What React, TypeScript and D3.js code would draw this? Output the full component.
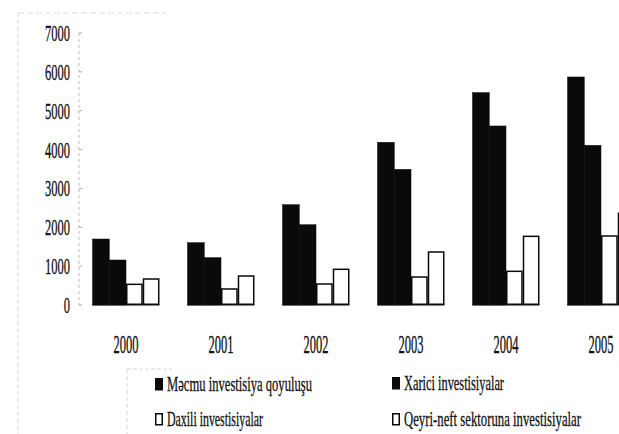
import React from "react";
import * as d3 from "d3";

const years = ["2000", "2001", "2002", "2003", "2004", "2005"];
const seriesNames = [
  "Məcmu investisiya qoyuluşu",
  "Xarici investisiyalar",
  "Daxili investisiyalar",
  "Qeyri-neft sektoruna investisiyalar",
];
const totalInv = [1698, 1604, 2581, 4187, 5465, 5868];
const foreignInv = [1158, 1218, 2066, 3491, 4607, 4109];
const domesticInv = [532, 412, 540, 720, 867, 1776];
const nonOilInv = [669, 746, 918, 1364, 1767, 2360];
const yTicks = [0, 1000, 2000, 3000, 4000, 5000, 6000, 7000];

const seriesValues = [totalInv, foreignInv, domesticInv, nonOilInv];
const seriesFill = ["#0a0a0a", "#0a0a0a", "#ffffff", "#ffffff"];

const W = 619;
const H = 434;
const FONT = "'Liberation Serif', 'Times New Roman', serif";

export default function App() {
  const x = d3
    .scaleBand<string>()
    .domain(years)
    .range([78.5, 78.5 + 570])
    .paddingInner(0.295)
    .paddingOuter(0.1475);
  const xs = d3
    .scaleBand<number>()
    .domain([0, 1, 2, 3])
    .range([0, x.bandwidth()]);
  const y = d3.scaleLinear().domain([0, 7000]).range([305, 33]);

  const legend = [
    { i: 0, sx: 155, ty: 391, len: 145 },
    { i: 1, sx: 392, ty: 390, len: 100 },
    { i: 2, sx: 155, ty: 426, len: 96 },
    { i: 3, sx: 392, ty: 426, len: 177 },
  ];

  return (
    <svg
      width={W}
      height={H}
      style={{ position: "absolute", left: 0, top: 0, background: "#fff" }}
      fontFamily={FONT}
    >
      <rect x={0} y={0} width={W} height={H} fill="#fff" />
      {/* faint scanned frame */}
      <line x1={18} y1={13} x2={18} y2={H} stroke="#d8d8d8" strokeDasharray="4,3" />
      <line x1={18} y1={13} x2={165} y2={13} stroke="#dcdcdc" strokeDasharray="6,3" />
      <line x1={127} y1={369} x2={127} y2={H} stroke="#d8d8d8" strokeDasharray="4,3" />
      <line x1={127} y1={369} x2={172} y2={369} stroke="#d8d8d8" strokeDasharray="4,2" />

      {/* y axis */}
      <line x1={79} y1={y(7000)} x2={79} y2={y(0)} stroke="#bdbdbd" strokeDasharray="3,3" />
      {yTicks.map((t) => {
        const len = String(t).length * 6.25;
        return (
          <g key={t}>
            <line x1={79} x2={82} y1={y(t)} y2={y(t)} stroke="#aaa" />
            <text
              x={70 - len}
              y={y(t) + 8}
              fontSize={24}
              textLength={len}
              lengthAdjust="spacingAndGlyphs"
              fill="#111"
              stroke="#111"
              strokeWidth={0.35}
            >
              {t}
            </text>
          </g>
        );
      })}

      {/* bars */}
      {years.map((yr, gi) => (
        <g key={yr} transform={`translate(${x(yr)},0)`}>
          {seriesValues.map((vals, si) => (
            <rect
              key={si}
              x={xs(si)! + (si >= 2 ? 0.75 : 0)}
              y={y(vals[gi])}
              width={xs.bandwidth() - (si >= 2 ? 1.5 : 0)}
              height={y(0) - y(vals[gi]) - (si >= 2 ? 0.75 : 0)}
              fill={seriesFill[si]}
              stroke="#0a0a0a"
              strokeWidth={si >= 2 ? 1.5 : 0.5}
            />
          ))}
          <line x1={0} x2={x.bandwidth()} y1={y(0)} y2={y(0)} stroke="#111" strokeWidth={1} />
        </g>
      ))}

      {/* year labels */}
      {years.map((yr) => (
        <text
          key={yr}
          x={x(yr)! + x.bandwidth() / 2 - 12.5}
          y={353}
          fontSize={25}
          textLength={25}
          lengthAdjust="spacingAndGlyphs"
          fill="#111"
          stroke="#111"
          strokeWidth={0.35}
        >
          {yr}
        </text>
      ))}

      {/* legend */}
      {legend.map((l) => (
        <g key={l.i}>
          <rect
            x={l.sx + (l.i >= 2 ? 0.75 : 0)}
            y={l.ty - 13 + (l.i >= 2 ? 0.75 : 0)}
            width={l.i >= 2 ? 6.5 : 8}
            height={l.i >= 2 ? 11 : 12.5}
            fill={seriesFill[l.i]}
            stroke="#0a0a0a"
            strokeWidth={l.i >= 2 ? 1.5 : 0}
          />
          <text
            x={l.sx + 12}
            y={l.ty}
            fontSize={22}
            textLength={l.len}
            lengthAdjust="spacingAndGlyphs"
            fill="#111"
            stroke="#111"
            strokeWidth={0.3}
          >
            {seriesNames[l.i]}
          </text>
        </g>
      ))}
    </svg>
  );
}
